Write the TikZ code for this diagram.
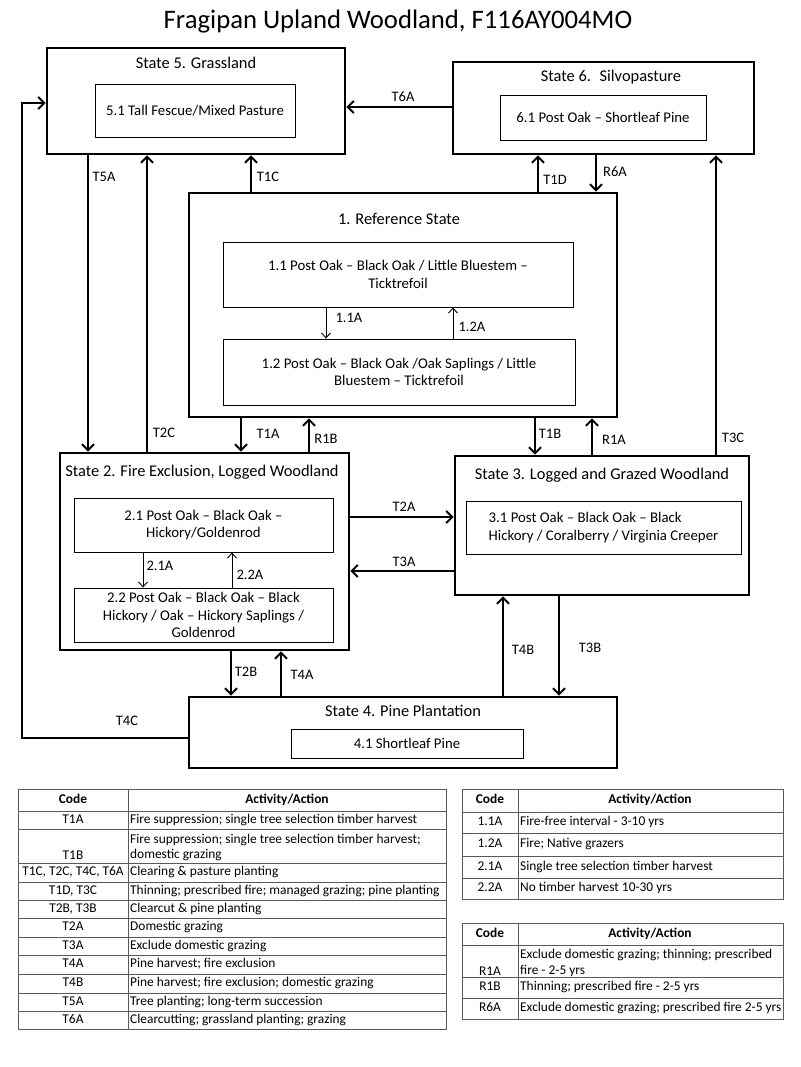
\documentclass[tikz,border=0pt]{standalone}
\usepackage{fontspec}
\setmainfont{Carlito}
\usetikzlibrary{arrows.meta}

\newcommand{\headfont}{\fontsize{26.7}{30}\selectfont}
\newcommand{\statefont}{\fontsize{16.4}{19}\selectfont}
\newcommand{\phasefont}{\fontsize{14.8}{17.8}\selectfont}
\newcommand{\lblfont}{\fontsize{14.5}{17}\selectfont}
\newcommand{\tabfont}{\fontsize{13.4}{15.5}\selectfont}

\begin{document}
\begin{tikzpicture}
        [x=1pt,y=-1pt,
         statebox/.style={draw,line width=2.8pt,inner sep=0pt},
         phasebox/.style={draw,line width=0.9pt,inner sep=0pt,align=center,font=\phasefont},
         stitle/.style={font=\statefont,inner sep=0pt},
         lbl/.style={font=\lblfont,inner sep=0pt},
         trans/.style={line width=2pt,-{Straight Barb[length=6pt,width=12pt]}},
         phasearrow/.style={line width=0.9pt,-{Straight Barb[length=5pt,width=9pt]}},
         tabline/.style={draw=black!65,line width=0.7pt},
         tabcell/.style={font=\tabfont,inner sep=0pt,text height=9.5pt,text depth=3pt}]
        \useasboundingbox (0,0) rectangle (800,1067);

        \node[font=\headfont] (title) at (398,22) {Fragipan Upland Woodland, F116AY004MO};

        \node[statebox,minimum width=298,minimum height=106] (s5) at (196,101) {};
        \node[statebox,minimum width=301,minimum height=92] (s6) at (603.5,108) {};
        \node[statebox,minimum width=428,minimum height=224] (s1) at (403,305) {};
        \node[statebox,minimum width=289,minimum height=197] (s2) at (204.5,551.5) {};
        \node[statebox,minimum width=294,minimum height=139] (s3) at (602,525.5) {};
        \node[statebox,minimum width=428,minimum height=71] (s4) at (403,732.5) {};

        \node[stitle] (t5) at (196,63) {State 5. Grassland};
        \node[stitle] (t6) at (611,77) {State 6.~ Silvopasture};
        \node[stitle] (t1) at (399,219) {1. Reference State};
        \node[stitle] (t2) at (202,472) {State 2. Fire Exclusion, Logged Woodland};
        \node[stitle] (t3) at (602,475) {State 3. Logged and Grazed Woodland};
        \node[stitle] (t4) at (403,711) {State 4. Pine Plantation};

        \node[phasebox,minimum width=200,minimum height=53] (p51) at (195,110.5) {5.1 Tall Fescue/Mixed Pasture};
        \node[phasebox,minimum width=206,minimum height=45] (p61) at (603,117.5) {6.1 Post Oak – Shortleaf Pine};
        \node[phasebox,minimum width=350,minimum height=65] (p11) at (398,274.5) {1.1 Post Oak – Black Oak / Little Bluestem –\\Ticktrefoil};
        \node[phasebox,minimum width=352,minimum height=66] (p12) at (399,372) {1.2 Post Oak – Black Oak /Oak Saplings / Little\\Bluestem – Ticktrefoil};
        \node[phasebox,minimum width=259,minimum height=54] (p21) at (203.5,525) {2.1 Post Oak – Black Oak –\\Hickory/Goldenrod};
        \node[phasebox,minimum width=259,minimum height=54] (p22) at (203.5,615) {2.2 Post Oak – Black Oak – Black\\Hickory / Oak – Hickory Saplings /\\Goldenrod};
        \node[phasebox,align=left,minimum width=275,minimum height=53] (p31) at (603.5,527.5) {3.1 Post Oak – Black Oak – Black\\Hickory / Coralberry / Virginia Creeper};
        \node[phasebox,minimum width=232,minimum height=29] (p41) at (407,743.5) {4.1 Shortleaf Pine};

        \draw[trans] (s6.west |- 0,107) -- (s5.east |- 0,107);
        \draw[trans] (s4.west |- 0,738) -| (22,103) -- (s5.west |- 0,103);
        \draw[trans] (s5.south -| 88,0) -- (s2.north -| 88,0);
        \draw[trans] (s2.north -| 147,0) -- (s5.south -| 147,0);
        \draw[trans] (s1.north -| 251,0) -- (s5.south -| 251,0);
        \draw[trans] (s1.north -| 538,0) -- (s6.south -| 538,0);
        \draw[trans] (s6.south -| 596,0) -- (s1.north -| 596,0);
        \draw[trans] (s3.north -| 716,0) -- (s6.south -| 716,0);
        \draw[trans] (s1.south -| 241,0) -- (s2.north -| 241,0);
        \draw[trans] (s2.north -| 309,0) -- (s1.south -| 309,0);
        \draw[trans] (s1.south -| 535,0) -- (s3.north -| 535,0);
        \draw[trans] (s3.north -| 592,0) -- (s1.south -| 592,0);
        \draw[trans] (s2.east |- 0,517) -- (s3.west |- 0,517);
        \draw[trans] (s3.west |- 0,571) -- (s2.east |- 0,571);
        \draw[trans] (s2.south -| 231,0) -- (s4.north -| 231,0);
        \draw[trans] (s4.north -| 281,0) -- (s2.south -| 281,0);
        \draw[trans] (s4.north -| 503,0) -- (s3.south -| 503,0);
        \draw[trans] (s3.south -| 559,0) -- (s4.north -| 559,0);

        \draw[phasearrow] (p11.south -| 326,0) -- (p12.north -| 326,0);
        \draw[phasearrow] (p12.north -| 453,0) -- (p11.south -| 453,0);
        \draw[phasearrow] (p21.south -| 143,0) -- (p22.north -| 143,0);
        \draw[phasearrow] (p22.north -| 232,0) -- (p21.south -| 232,0);

        \foreach \t/\x/\y [count=\n] in {T6A/403/97, T4C/127/721, T5A/104/177, T2C/164/433,
          T1C/268/177, T1D/555/180, R6A/615/172, T3C/733/438, T1A/268/434, R1B/326/439,
          T1B/550/434, R1A/614/440, T2A/404/507, T3A/404/562, T4B/523/650, T3B/590/648,
          T2B/246/672, T4A/302/675, 1.1A/349/318, 1.2A/472/327, 2.1A/160/566, 2.2A/250/575}
        {\node[lbl] (lab\n) at (\x,\y) {\t};}

        \draw[tabline] (18,789) rectangle (446,1029);
        \draw[tabline] (128,789) -- (128,1029);
        \foreach \y in {811,829,863,882,900,918,937,955,974,993,1011}
        {\draw[tabline] (18,\y) -- (446,\y);}
        \node[tabcell,font=\tabfont\bfseries] (code1) at (73,800) {Code};
        \node[tabcell,font=\tabfont\bfseries] (act1) at (287,800) {Activity/Action};
        \node[tabcell] (cT1B) at (73,856) {T1B};
        \node[tabcell,anchor=west,align=left,text height=,text depth=] (aT1B) at (130,847.5)
          {Fire suppression; single tree selection timber harvest;\\domestic grazing};
        \foreach \c/\a/\y [count=\n] in {T1A/{Fire suppression; single tree selection timber harvest}/820,
          {T1C, T2C, T4C, T6A}/{Clearing \& pasture planting}/872.5,
          {T1D, T3C}/{Thinning; prescribed fire; managed grazing; pine planting}/891,
          {T2B, T3B}/{Clearcut \& pine planting}/909,
          T2A/{Domestic grazing}/927.5,
          T3A/{Exclude domestic grazing}/946,
          T4A/{Pine harvest; fire exclusion}/964.5,
          T4B/{Pine harvest; fire exclusion; domestic grazing}/983.5,
          T5A/{Tree planting; long-term succession}/1002,
          T6A/{Clearcutting; grassland planting; grazing}/1020}
        {\node[tabcell] (ca\n) at (73,\y) {\c};
         \node[tabcell,anchor=west] (aa\n) at (130,\y) {\a};}

        \draw[tabline] (462,789) rectangle (783,899);
        \draw[tabline] (518,789) -- (518,899);
        \foreach \y in {812,833,856,878}
        {\draw[tabline] (462,\y) -- (783,\y);}
        \node[tabcell,font=\tabfont\bfseries] (code2) at (490,800.5) {Code};
        \node[tabcell,font=\tabfont\bfseries] (act2) at (650,800.5) {Activity/Action};
        \foreach \c/\a/\y [count=\n] in {1.1A/{Fire-free interval - 3-10 yrs}/822.5,
          1.2A/{Fire; Native grazers}/844.5,
          2.1A/{Single tree selection timber harvest}/867,
          2.2A/{No timber harvest 10-30 yrs}/888.5}
        {\node[tabcell] (cb\n) at (490,\y) {\c};
         \node[tabcell,anchor=west] (ab\n) at (520,\y) {\a};}

        \draw[tabline] (462,923) rectangle (783,1019);
        \draw[tabline] (518,923) -- (518,1019);
        \foreach \y in {945,977,998}
        {\draw[tabline] (462,\y) -- (783,\y);}
        \node[tabcell,font=\tabfont\bfseries] (code3) at (490,934) {Code};
        \node[tabcell,font=\tabfont\bfseries] (act3) at (650,934) {Activity/Action};
        \node[tabcell] (cR1A) at (490,972) {R1A};
        \node[tabcell,anchor=west,align=left,text height=,text depth=] (aR1A) at (520,963)
          {Exclude domestic grazing; thinning; prescribed\\fire - 2-5 yrs};
        \foreach \c/\a/\y [count=\n] in {R1B/{Thinning; prescribed fire - 2-5 yrs}/987.5,
          R6A/{Exclude domestic grazing; prescribed fire 2-5 yrs}/1008.5}
        {\node[tabcell] (cc\n) at (490,\y) {\c};
         \node[tabcell,anchor=west] (ac\n) at (520,\y) {\a};}
\end{tikzpicture}
\end{document}
